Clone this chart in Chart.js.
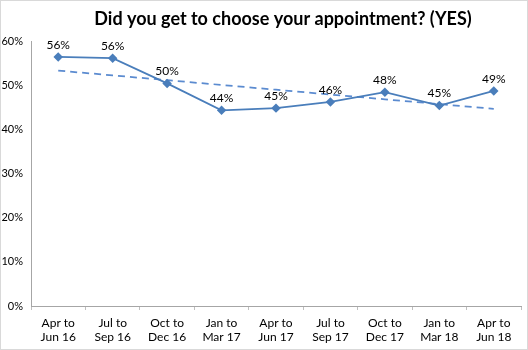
<!DOCTYPE html>
<html>
<head>
<meta charset="utf-8">
<script src="https://cdn.jsdelivr.net/npm/chart.js@4.4.1/dist/chart.umd.min.js"></script>
<style>
  html, body { margin: 0; padding: 0; background: #fff; }
  #wrap { position: relative; width: 526px; height: 348px; border: 1px solid #d9d9d9; }
</style>
</head>
<body>
<div id="wrap"><canvas id="chart"></canvas></div>
<script>
// quarters and share answering YES
var quarters = [
    ['Apr to', 'Jun 16'], ['Jul to', 'Sep 16'], ['Oct to', 'Dec 16'],
    ['Jan to', 'Mar 17'], ['Apr to', 'Jun 17'], ['Jul to', 'Sep 17'],
    ['Oct to', 'Dec 17'], ['Jan to', 'Mar 18'], ['Apr to', 'Jun 18']
];
var yesShare = [56.4, 56.1, 50.4, 44.3, 44.8, 46.2, 48.4, 45.4, 48.7];
var yTicks = [0, 10, 20, 30, 40, 50, 60];
var titleText = 'Did you get to choose your appointment? (YES)';

var blue = '#4A7EBB';
var font = "Lato, 'Open Sans', sans-serif";

// least squares trend line over the quarters
function trend(values) {
    var n = values.length, sx = 0, sy = 0, sxy = 0, sxx = 0;
    values.forEach(function(v, i) { sx += i; sy += v; sxy += i * v; sxx += i * i; });
    var slope = (n * sxy - sx * sy) / (n * sxx - sx * sx);
    var icpt = (sy - slope * sx) / n;
    return values.map(function(v, i) { return icpt + slope * i; });
}

// value labels above the points and the title
var labelsPlugin = {
    id: 'labels',
    afterDatasetsDraw: function(chart) {
        var ctx = chart.ctx;
        var meta = chart.getDatasetMeta(0);
        ctx.save();
        ctx.fillStyle = '#000';
        ctx.font = '12px ' + font;
        ctx.textAlign = 'center';
        ctx.textBaseline = 'bottom';
        meta.data.forEach(function(pt, i) {
            ctx.fillText(Math.round(yesShare[i]) + '%', pt.x, pt.y - 6);
        });
        ctx.font = 'bold 18px ' + font;
        ctx.textBaseline = 'middle';
        ctx.fillText(titleText, 282, 18);
        ctx.restore();
    }
};

var ctx = document.getElementById('chart').getContext('2d');
var chart = new Chart(ctx, {
    type: 'line',
    data: {
        labels: quarters,
        datasets: [{
            data: yesShare,
            borderColor: blue,
            backgroundColor: blue,
            borderWidth: 1.75,
            pointStyle: 'rectRot',
            pointRadius: 3.5,
            pointHoverRadius: 3.5,
            tension: 0
        }, {
            data: trend(yesShare),
            borderColor: '#5B8BD0',
            borderWidth: 1.75,
            borderDash: [7, 5],
            pointRadius: 0,
            tension: 0
        }]
    },
    options: {
        responsive: true,
        maintainAspectRatio: false,
        animation: false,
        events: [],
        layout: { padding: { top: 40, right: 6, left: 0, bottom: 0 } },
        plugins: {
            legend: { display: false },
            title: { display: false },
            tooltip: { enabled: false }
        },
        scales: {
            x: {
                offset: true,
                grid: {
                    display: true,
                    drawOnChartArea: false,
                    offset: true,
                    tickLength: 4,
                    color: '#bfbfbf'
                },
                border: { color: '#a6a6a6' },
                ticks: {
                    color: '#000',
                    font: { family: font, size: 12 },
                    maxRotation: 0,
                    padding: 6
                },
                afterFit: function(s) { s.height = 43; }
            },
            y: {
                min: 0,
                max: 60,
                afterBuildTicks: function(s) {
                    s.ticks = yTicks.map(function(v) { return { value: v }; });
                },
                grid: { display: false, drawTicks: false },
                border: { color: '#a6a6a6' },
                ticks: {
                    color: '#000',
                    font: { family: font, size: 11 },
                    padding: 8,
                    callback: function(v) { return v + '%'; }
                },
                afterFit: function(s) { s.width = 30; }
            }
        }
    },
    plugins: [labelsPlugin]
});
</script>
</body>
</html>
